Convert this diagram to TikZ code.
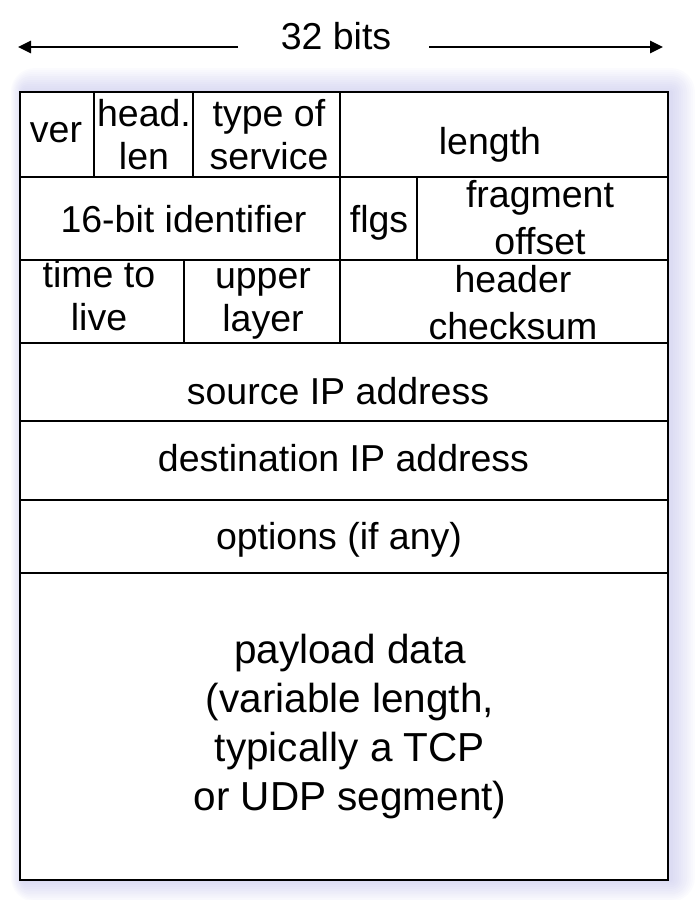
\documentclass[tikz,border=0pt]{standalone}
\usepackage{fontspec}
\setmainfont{Liberation Sans}
\usetikzlibrary{arrows.meta}
\definecolor{glowc}{RGB}{165,165,225}
\begin{document}
\begin{tikzpicture}[x=1pt,y=-1pt,
  lbl/.style={inner sep=0pt, align=center, font=\fontsize{37.5}{43}\selectfont},
  lblw/.style={inner sep=0pt, align=center, font=\fontsize{37.5}{47}\selectfont},
  lblp/.style={inner sep=0pt, align=center, font=\fontsize{40.5}{49}\selectfont},
  gridline/.style={line width=2.8pt, line cap=rect},
  dimarrow/.style={line width=2.8pt, -{Triangle[length=13pt,width=12pt]}}]
\useasboundingbox (0,0) rectangle (698,900);
% glow around the box
\foreach \i in {1,...,12}{
  \fill[glowc, opacity=0.04, rounded corners=2*\i pt]
    (20-1.1*\i+4, 92-2*\i) rectangle (668+2*\i+3, 880+1.8*\i);
}
\fill[white] (20,92) rectangle (668,880);
% outer frame and rows
\draw[gridline] (20,92) rectangle (668,880);
\foreach \yy in {177,260,343,421,500,573}{
  \draw[gridline] (20,\yy) -- (668,\yy);
}
% column separators
\draw[gridline] (94,92) -- (94,177);
\draw[gridline] (193,92) -- (193,177);
\draw[gridline] (340,92) -- (340,343);
\draw[gridline] (417,177) -- (417,260);
\draw[gridline] (184,260) -- (184,343);
% width label and arrows
\node[lbl] (bits) at (336,36.4) {32 bits};
\coordinate (lstart) at (238,47);
\coordinate (lend) at (18,47);
\coordinate (rstart) at (429,47);
\coordinate (rend) at (663,47);
\draw[dimarrow] (lstart) -- (lend);
\draw[dimarrow] (rstart) -- (rend);
% row 1
\node[lbl] (ver) at (56,133) {ver};
\node[lbl] (hlen) at (144,135) {head.\\len};
\node[lbl] (tos) at (269,134.4) {type of\\service};
\node[lbl] (len) at (490,144.5) {length};
% row 2
\node[lbl] (ident) at (183.5,219.4) {16-bit identifier};
\node[lbl] (flgs) at (379,222.3) {flgs};
\node[lblw] (frag) at (540,217.9) {fragment\\offset};
% row 3
\node[lbl] (ttl) at (99,296) {time to\\live};
\node[lbl] (upper) at (263,303.5) {upper\\layer};
\node[lblw] (cksum) at (513,303) {header\\checksum};
% rows 4-6
\node[lbl] (src) at (338,391.5) {source IP address};
\node[lbl] (dst) at (343.5,457.6) {destination IP address};
\node[lbl] (opt) at (339,539.3) {options (if any)};
% payload
\node[lblp] (payload) at (350,726.2) {payload data\\(variable length,\\typically a TCP\\or UDP segment)};
\end{tikzpicture}
\end{document}
